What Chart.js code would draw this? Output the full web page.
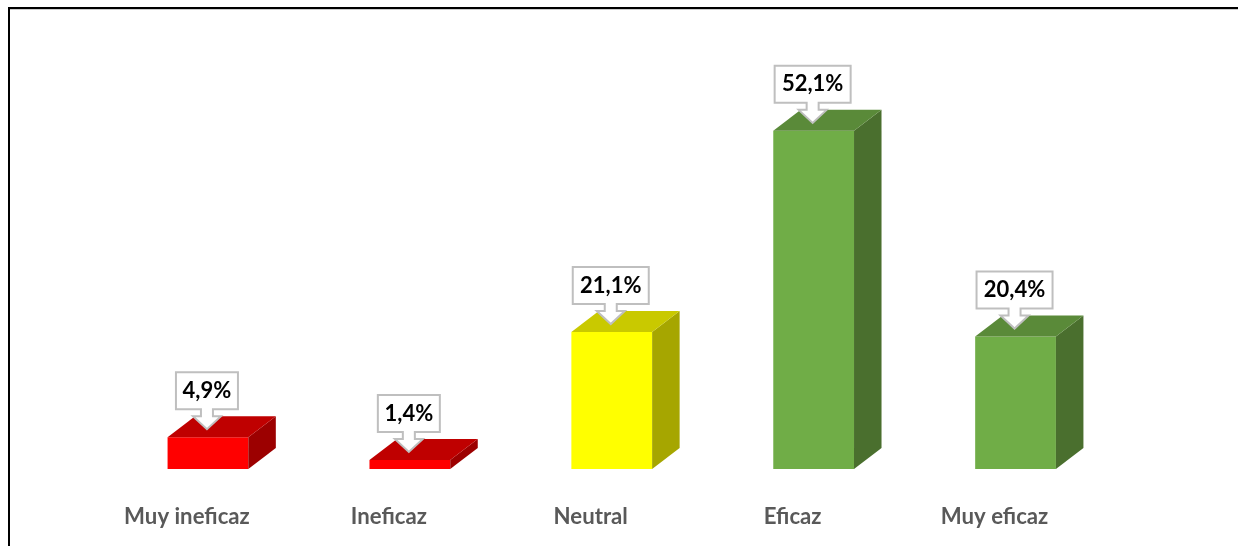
<!DOCTYPE html>
<html>
<head>
<meta charset="utf-8">
<script src="https://cdn.jsdelivr.net/npm/chart.js@4"></script>
<style>
    html, body { margin: 0; padding: 0; background: #fff; overflow: hidden; }
    #wrap { position: relative; width: 1238px; height: 546px; }
    #frame { position: absolute; left: 8px; top: 7px; right: 0; bottom: 0; border-top: 2px solid #000; border-left: 2px solid #000; box-shadow: inset 0 1px 0 #ccc; }
    canvas { position: absolute; left: 0; top: 0; }
</style>
</head>
<body>
<div id="wrap">
    <div id="frame"></div>
    <canvas id="chart" width="1238" height="546"></canvas>
</div>
<script>
const categories = ['Muy ineficaz', 'Ineficaz', 'Neutral', 'Eficaz', 'Muy eficaz'];
const values = [4.9, 1.4, 21.1, 52.1, 20.4];

const frontColors = ['#ff0000', '#ff0000', '#ffff00', '#70ad47', '#70ad47'];
const topColors = ['#bf0000', '#bf0000', '#c9c900', '#5a8a39', '#5a8a39'];
const sideColors = ['#9c0000', '#9c0000', '#a6a600', '#4a6f2e', '#4a6f2e'];

const DEPTH_X = 27.5;
const DEPTH_Y = 21;
const LABEL_FONT = 'bold 22px Lato';

const formatValue = (v) => v.toFixed(1).replace('.', ',') + '%';

// Fake 3D: side and top faces of each bar, then the callout label
const bar3dPlugin = {
    id: 'bar3d',
    afterDatasetsDraw: (chart) => {
        const { ctx } = chart;
        const meta = chart.getDatasetMeta(0);
        ctx.save();

        meta.data.forEach((bar, i) => {
            const left = bar.x - bar.width / 2;
            const right = bar.x + bar.width / 2;

            ctx.fillStyle = sideColors[i];
            ctx.beginPath();
            ctx.moveTo(right, bar.y);
            ctx.lineTo(right + DEPTH_X, bar.y - DEPTH_Y);
            ctx.lineTo(right + DEPTH_X, bar.base - DEPTH_Y);
            ctx.lineTo(right, bar.base);
            ctx.closePath();
            ctx.fill();

            ctx.fillStyle = topColors[i];
            ctx.beginPath();
            ctx.moveTo(left, bar.y);
            ctx.lineTo(left + DEPTH_X, bar.y - DEPTH_Y);
            ctx.lineTo(right + DEPTH_X, bar.y - DEPTH_Y);
            ctx.lineTo(right, bar.y);
            ctx.closePath();
            ctx.fill();
        });

        ctx.font = LABEL_FONT;
        ctx.textAlign = 'center';
        ctx.textBaseline = 'middle';
        meta.data.forEach((bar, i) => {
            const text = formatValue(values[i]);
            const halfW = Math.round(ctx.measureText(text).width / 2) + 7;
            const cx = bar.x - 1;
            const boxTop = bar.y - 65;
            const boxBottom = bar.y - 28;
            const stemBottom = bar.y - 21;
            const tip = bar.y - 8;

            ctx.fillStyle = '#fff';
            ctx.strokeStyle = '#bfbfbf';
            ctx.lineWidth = 2;
            ctx.lineJoin = 'miter';
            ctx.beginPath();
            ctx.moveTo(cx - halfW, boxTop);
            ctx.lineTo(cx + halfW, boxTop);
            ctx.lineTo(cx + halfW, boxBottom);
            ctx.lineTo(cx + 6, boxBottom);
            ctx.lineTo(cx + 6, stemBottom);
            ctx.lineTo(cx + 14, stemBottom);
            ctx.lineTo(cx, tip);
            ctx.lineTo(cx - 14, stemBottom);
            ctx.lineTo(cx - 6, stemBottom);
            ctx.lineTo(cx - 6, boxBottom);
            ctx.lineTo(cx - halfW, boxBottom);
            ctx.closePath();
            ctx.fill();
            ctx.stroke();

            ctx.fillStyle = '#000';
            ctx.fillText(text, cx, (boxTop + boxBottom) / 2);
        });
        ctx.restore();
    }
};

new Chart(document.getElementById('chart').getContext('2d'), {
    type: 'bar',
    data: {
        labels: categories,
        datasets: [{
            data: values,
            backgroundColor: frontColors,
            borderWidth: 0,
            barPercentage: 0.4,
            categoryPercentage: 1
        }]
    },
    options: {
        responsive: false,
        animation: false,
        layout: { padding: { top: 14.7, left: 107, right: 121.5, bottom: 0 } },
        plugins: { legend: { display: false }, tooltip: { enabled: false } },
        scales: {
            y: { display: false, min: 0, max: 70 },
            x: {
                grid: { display: false },
                border: { display: false },
                afterFit: (scale) => { scale.height = 77; },
                ticks: {
                    color: '#595959',
                    font: { family: 'Lato', size: 22.2, weight: 'bold' },
                    padding: 27,
                    labelOffset: -21,
                    maxRotation: 0,
                    autoSkip: false
                }
            }
        }
    },
    plugins: [bar3dPlugin]
});
</script>
</body>
</html>
